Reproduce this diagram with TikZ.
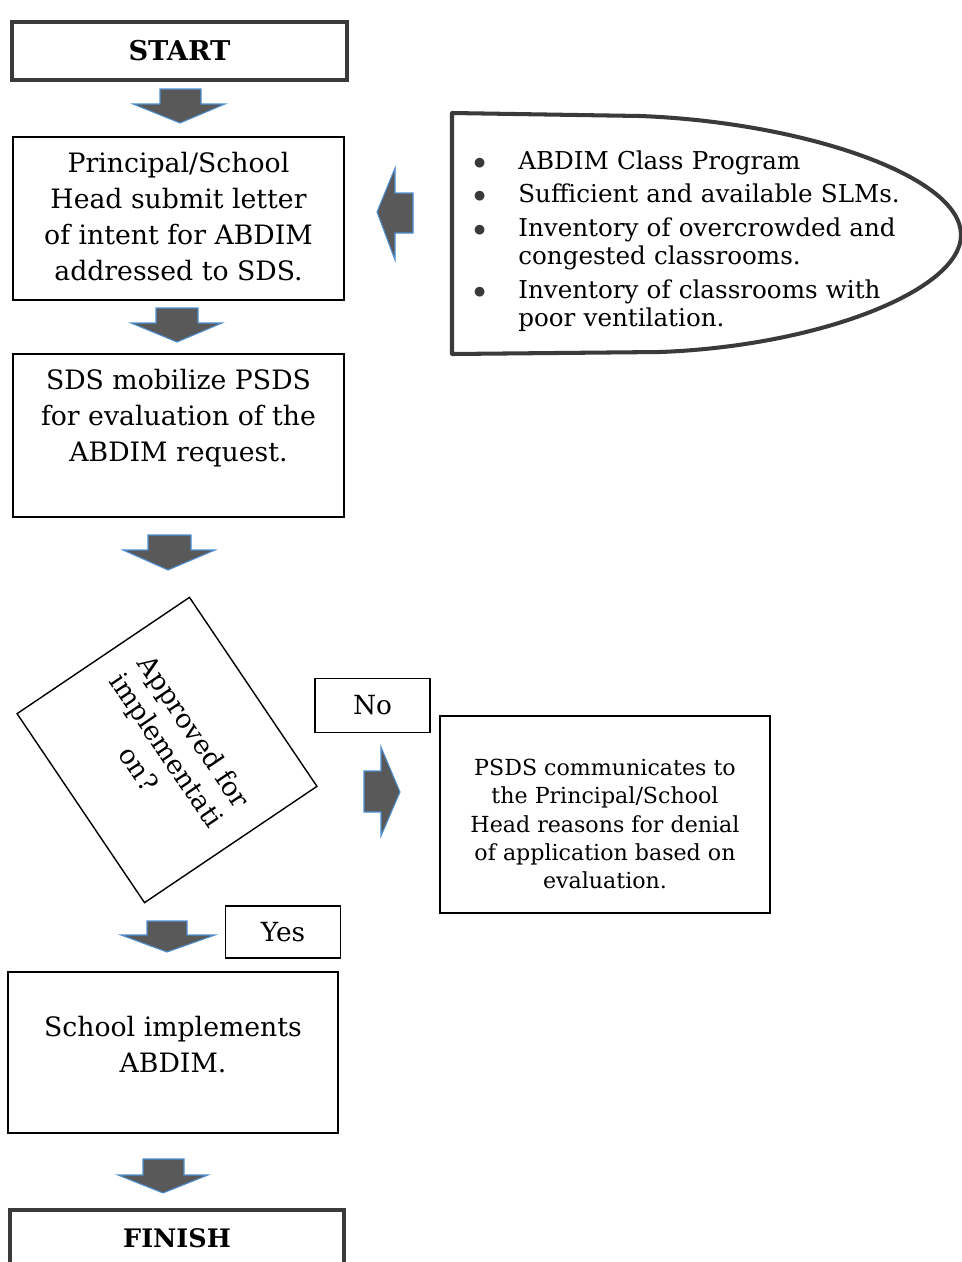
\documentclass[tikz,border=0pt]{standalone}
\usepackage{fontspec}
\setmainfont{DejaVu Serif}
\usetikzlibrary{positioning}
\definecolor{arrowgray}{HTML}{595959}
\definecolor{arrowblue}{HTML}{4F8FD0}
\definecolor{framegray}{HTML}{3A3A3A}
\newcommand{\reqbullet}{\makebox[0.92cm][l]{\hspace{0.02cm}\color{framegray}$\bullet$}}
\newcommand{\reqindent}{\hspace*{0.92cm}}
\tikzset{every node/.style={inner sep=2pt},
  endbox/.style={draw=framegray, line width=2.3pt, minimum width=6.7cm, minimum height=1.16cm},
  endtext/.style={font=\bfseries\fontsize{14.5}{17}\selectfont},
  procbox/.style={draw, line width=0.8pt, minimum width=6.62cm, minimum height=3.26cm},
  proctext/.style={align=center, font=\fontsize{15.2}{20.5}\selectfont},
  smallbox/.style={draw, line width=0.8pt, minimum width=2.3cm, minimum height=1.08cm, font=\fontsize{15}{17}\selectfont},
  fatarrow/.style={fill=arrowgray, draw=arrowblue, line width=0.6pt, line join=miter}}

\begin{document}
\begin{tikzpicture}[x=0.02cm,y=-0.02cm]
  \useasboundingbox (0,0) rectangle (962,1262);
  % main column
  \node[endbox, endtext, font=\bfseries\fontsize{15.5}{17}\selectfont] (start) at (179.5,51) {START};
  \node[procbox] (intentbox) at (178.5,218.5) {};
  \node[proctext] (intent) at (178.5,217)
    {Principal/School\\Head submit letter\\of intent for ABDIM\\addressed to SDS.};
  \node[procbox] (mobilizebox) at (178.5,435.5) {};
  \node[proctext] (mobilize) at (178.5,418)
    {SDS mobilize PSDS\\for evaluation of the\\ABDIM request.};
  \node[draw, line width=0.8pt, rotate=-56, minimum width=4.56cm, minimum height=4.16cm,
    proctext, font=\fontsize{15.2}{19}\selectfont] (approved) at (167,750)
    {Approved for\\implementati\\on?};
  \node[smallbox] (no) at (372.5,705.5) {No};
  \node[procbox, minimum width=6.6cm, minimum height=3.94cm] (denialbox) at (605,814.5) {};
  \node[proctext, font=\fontsize{12.6}{16.2}\selectfont] (denial) at (605,824)
    {PSDS communicates to\\the Principal/School\\Head reasons for denial\\of application based on\\evaluation.};
  \node[smallbox, minimum height=1.04cm] (yes) at (283,932) {Yes};
  \node[procbox, minimum width=6.6cm, minimum height=3.22cm] (implementsbox) at (173,1052.5) {};
  \node[proctext] (implements) at (173,1045) {School implements\\ABDIM.};
  \node[endbox, minimum width=6.68cm, minimum height=1.2cm] (finishbox) at (177,1240) {};
  \node[endtext] (finish) at (177,1238) {FINISH};

  % requirements callout
  \draw[draw=framegray, line width=2.3pt, line join=round]
    (452,113) -- (640,116) .. controls (800,122) and (961,175) .. (961,235)
    .. controls (961,290) and (820,346) .. (660,352) -- (452,354) -- cycle;
  \node[anchor=north west, inner sep=0pt, text width=9.2cm, align=left,
    font=\fontsize{14}{15.9}\selectfont] (reqs) at (472,150)
    {\setlength{\parskip}{0.12cm}%
     \reqbullet ABDIM Class Program\par
     \reqbullet Sufficient and available SLMs.\par
     \reqbullet Inventory of overcrowded and\\\reqindent congested classrooms.\par
     \reqbullet Inventory of classrooms with\\\reqindent poor ventilation.\par};

  % block arrows
  \filldraw[fatarrow] (160,89) -- (201,89) -- (201,104) -- (225,104) -- (180,123) -- (133,104) -- (160,104) -- cycle;
  \filldraw[fatarrow] (156,308) -- (198,308) -- (198,323) -- (222,323) -- (177,342) -- (131,323) -- (156,323) -- cycle;
  \filldraw[fatarrow] (148,535) -- (191,535) -- (191,550) -- (215,550) -- (168,570) -- (123,550) -- (148,550) -- cycle;
  \filldraw[fatarrow] (147,921) -- (187,921) -- (187,935) -- (215,935) -- (167,952) -- (121,935) -- (147,935) -- cycle;
  \filldraw[fatarrow] (143,1159) -- (184,1159) -- (184,1175) -- (208,1175) -- (163,1193) -- (118,1175) -- (143,1175) -- cycle;
  \filldraw[fatarrow] (413,193) -- (413,233) -- (395,233) -- (395,260) -- (377,212) -- (395,168) -- (395,193) -- cycle;
  \filldraw[fatarrow] (364,771) -- (381,771) -- (381,747) -- (400,792) -- (381,836) -- (381,812) -- (364,812) -- cycle;
\end{tikzpicture}
\end{document}
